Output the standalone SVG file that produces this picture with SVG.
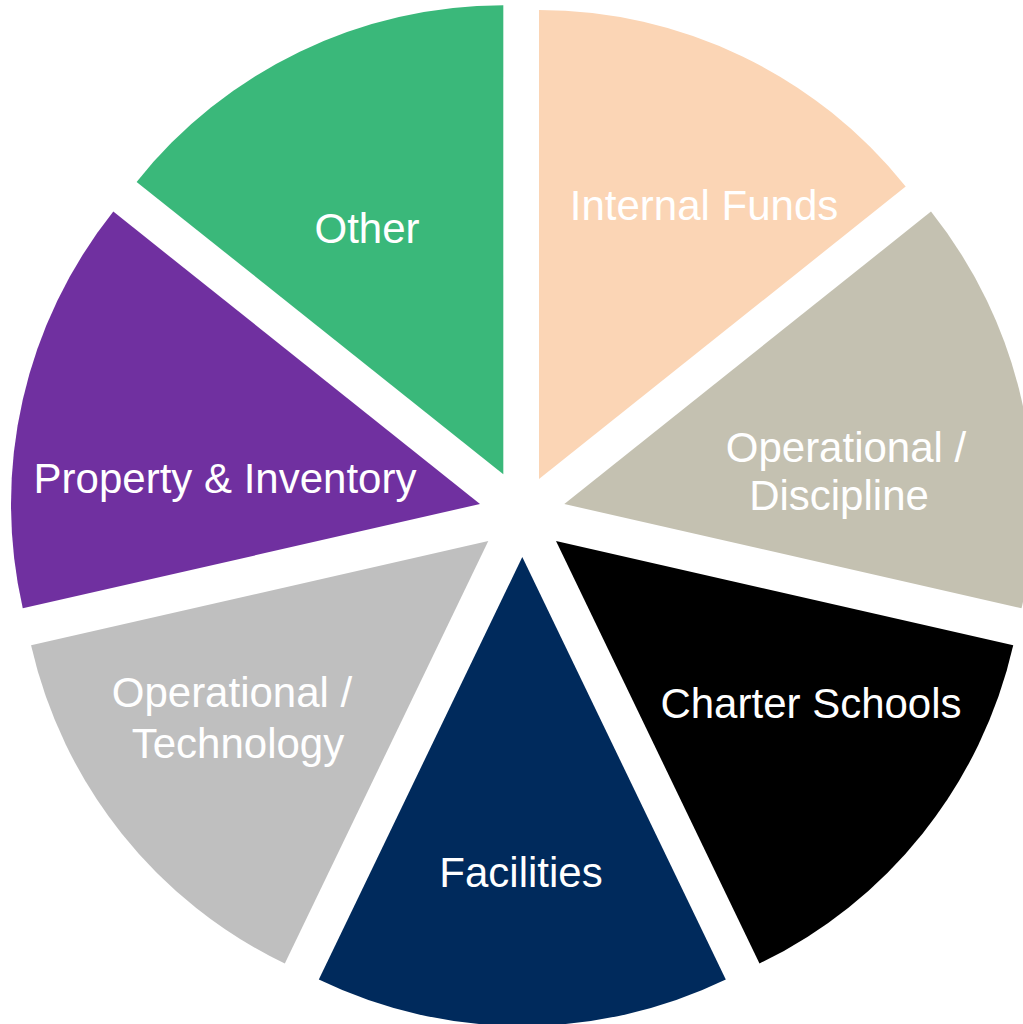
<svg xmlns="http://www.w3.org/2000/svg" width="1023" height="1024" viewBox="0 0 1023 1024">
  <style>
    .lbl { font-family: "Liberation Sans", Arial, sans-serif; font-size: 42px; fill: #FFFFFF; text-anchor: middle; }
  </style>
  <rect width="1023" height="1024" fill="#FFFFFF"/>
  <g id="slice-internal-funds">
    <path d="M539,479 L539,10 A469,469 0 0 1 905.68,186.58 Z" fill="#FBD5B5"/>
    <text class="lbl" x="704" y="220">Internal Funds</text>
  </g>
  <g id="slice-operational-discipline">
    <path d="M564.3,504 L930.98,211.58 A469,469 0 0 1 1021.54,608.36 Z" fill="#C4C1B1"/>
    <text class="lbl" x="846" y="462">Operational /</text>
    <text class="lbl" x="839" y="510">Discipline</text>
  </g>
  <g id="slice-charter-schools">
    <path d="M556,541 L1013.24,645.36 A469,469 0 0 1 759.49,963.55 Z" fill="#000000"/>
    <text class="lbl" x="811" y="718">Charter Schools</text>
  </g>
  <g id="slice-facilities">
    <path d="M522.3,557 L725.79,979.55 A469,469 0 0 1 318.81,979.55 Z" fill="#002A5C"/>
    <text class="lbl" x="521" y="887">Facilities</text>
  </g>
  <g id="slice-operational-technology">
    <path d="M488.3,541 L284.81,963.55 A469,469 0 0 1 31.06,645.36 Z" fill="#BFBFBF"/>
    <text class="lbl" x="232" y="707">Operational /</text>
    <text class="lbl" x="238" y="758">Technology</text>
  </g>
  <g id="slice-property-inventory">
    <path d="M480,504 L22.76,608.36 A469,469 0 0 1 113.32,211.58 Z" fill="#7030A0"/>
    <text class="lbl" x="225" y="493">Property &amp; Inventory</text>
  </g>
  <g id="slice-other">
    <path d="M503.3,474.3 L136.62,181.88 A469,469 0 0 1 503.3,5.3 Z" fill="#3AB87A"/>
    <text class="lbl" x="367" y="243">Other</text>
  </g>
  <g id="connectors"/>
</svg>
